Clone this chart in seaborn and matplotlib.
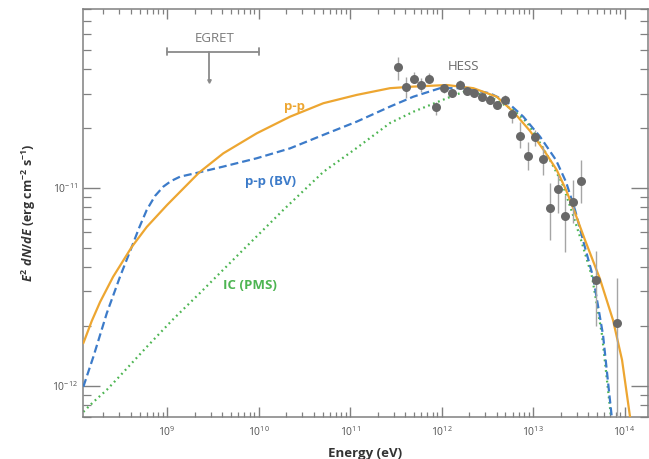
import numpy as np
import pandas as pd
import matplotlib
matplotlib.use("Agg")
import matplotlib.pyplot as plt
import seaborn as sns
from matplotlib.ticker import FixedLocator, LogFormatterMathtext, NullFormatter

# ---------------- data ----------------
# p-p model (solid orange): log10(E/eV), log10(E^2 dN/dE)
pp_logE = [8.085, 8.177, 8.268, 8.410, 8.614, 8.778, 9.000, 9.353, 9.615, 9.980,
           10.344, 10.708, 11.073, 11.437, 11.692, 12.057, 12.348, 12.603, 12.785,
           12.967, 13.131, 13.259, 13.361, 13.459, 13.568, 13.732, 13.874, 13.973,
           14.060, 14.126]
pp_logF = [-11.784, -11.672, -11.576, -11.449, -11.298, -11.197, -11.086, -10.921,
           -10.825, -10.724, -10.640, -10.572, -10.530, -10.496, -10.488, -10.480,
           -10.496, -10.539, -10.615, -10.712, -10.818, -10.909, -11.010, -11.126,
           -11.263, -11.460, -11.667, -11.869, -12.155, -12.348]

# p-p (BV) model (dashed blue)
bv_logE = [8.085, 8.195, 8.341, 8.486, 8.614, 8.694, 8.778, 8.869, 8.960, 9.044,
           9.142, 9.353, 9.615, 9.980, 10.344, 10.708, 11.073, 11.437, 11.692,
           11.984, 12.238, 12.530, 12.713, 12.894, 13.077, 13.251, 13.361, 13.459,
           13.546, 13.656, 13.765, 13.860, 13.885]
bv_logF = [-12.004, -11.852, -11.633, -11.448, -11.298, -11.202, -11.111, -11.040,
           -10.993, -10.965, -10.943, -10.921, -10.892, -10.850, -10.800, -10.732,
           -10.665, -10.589, -10.539, -10.496, -10.496, -10.522, -10.564, -10.640,
           -10.741, -10.859, -10.970, -11.111, -11.263, -11.449, -11.742, -12.155,
           -12.374]

# IC (PMS) model (dotted green)
ic_logE = [8.085, 8.195, 8.341, 8.486, 8.778, 9.069, 9.361, 9.798, 10.271, 10.708,
           11.073, 11.437, 11.692, 12.057, 12.238, 12.494, 12.785, 12.931, 13.044,
           13.197, 13.317, 13.426, 13.525, 13.645, 13.754, 13.852, 13.880]
ic_logF = [-12.131, -12.081, -12.020, -11.949, -11.803, -11.662, -11.530, -11.328,
           -11.111, -10.919, -10.798, -10.672, -10.615, -10.547, -10.515, -10.530,
           -10.606, -10.667, -10.747, -10.869, -10.975, -11.121, -11.263, -11.449,
           -11.742, -12.155, -12.374]

# HESS data points
hess_E = [3.37e11, 4.09e11, 4.97e11, 6.01e11, 7.29e11, 8.77e11, 1.07e12, 1.30e12,
          1.58e12, 1.90e12, 2.28e12, 2.77e12, 3.37e12, 4.07e12, 4.98e12, 5.94e12,
          7.21e12, 8.71e12, 1.06e13, 1.27e13, 1.53e13, 1.86e13, 2.26e13, 2.75e13,
          3.33e13, 4.92e13, 8.34e13]
hess_F = [4.10e-11, 3.23e-11, 3.56e-11, 3.33e-11, 3.56e-11, 2.56e-11, 3.18e-11, 3.02e-11,
          3.33e-11, 3.10e-11, 3.03e-11, 2.89e-11, 2.78e-11, 2.62e-11, 2.79e-11, 2.36e-11,
          1.84e-11, 1.45e-11, 1.81e-11, 1.40e-11, 7.89e-12, 9.85e-12, 7.24e-12, 8.50e-12,
          1.09e-11, 3.42e-12, 2.07e-12]
hess_hi = [4.60e-11, 3.65e-11, 3.87e-11, 3.58e-11, 3.80e-11, 2.73e-11, 3.33e-11, 3.16e-11,
           3.49e-11, 3.25e-11, 3.17e-11, 3.03e-11, 2.92e-11, 2.76e-11, 2.95e-11, 2.48e-11,
           2.16e-11, 1.71e-11, 1.96e-11, 1.62e-11, 1.06e-11, 1.16e-11, 9.22e-12, 1.10e-11,
           1.38e-11, 4.83e-12, 3.51e-12]
hess_lo = [3.51e-11, 2.84e-11, 3.38e-11, 3.06e-11, 3.38e-11, 2.34e-11, 3.03e-11, 2.88e-11,
           3.18e-11, 2.96e-11, 2.89e-11, 2.76e-11, 2.65e-11, 2.50e-11, 2.66e-11, 2.12e-11,
           1.59e-11, 1.23e-11, 1.62e-11, 1.16e-11, 5.46e-12, 7.48e-12, 4.75e-12, 6.66e-12,
           8.40e-12, 2.01e-12, 6.0e-13]

# EGRET upper limit
egret_E_range = [1e9, 1e10]
egret_E_center = 2.9e9
egret_F = 4.88e-11
egret_F_tip = 3.47e-11

# axis ticks
x_major = [1e9, 1e10, 1e11, 1e12, 1e13, 1e14]
y_major = [1e-12, 1e-11]

# ---------------- style ----------------
sns.set_theme(style="white")
plt.rcParams["font.family"] = ["Open Sans", "DejaVu Sans"]
plt.rcParams["mathtext.fontset"] = "custom"
plt.rcParams["mathtext.rm"] = "Open Sans:bold"
plt.rcParams["mathtext.bf"] = "Open Sans:bold"
plt.rcParams["mathtext.it"] = "Open Sans:italic:bold"

c_pp = "#EDA631"
c_bv = "#3C7BC9"
c_ic = "#4DB552"
c_data = "#686868"
c_err = "#A5A5A5"
c_axis = "#808080"

fig = plt.figure(figsize=(6.49, 4.59), dpi=100)
ax = fig.add_axes([0.128, 0.0915, 0.8705, 0.8889])

pp = pd.DataFrame({"E": np.power(10.0, pp_logE), "F": np.power(10.0, pp_logF)})
bv = pd.DataFrame({"E": np.power(10.0, bv_logE), "F": np.power(10.0, bv_logF)})
ic = pd.DataFrame({"E": np.power(10.0, ic_logE), "F": np.power(10.0, ic_logF)})

ax.set_xscale("log")
ax.set_yscale("log")

sns.lineplot(data=ic, x="E", y="F", ax=ax, color=c_ic, lw=1.6, sort=False,
             estimator=None, linestyle=(0, (0.8, 1.6)), zorder=2)
sns.lineplot(data=bv, x="E", y="F", ax=ax, color=c_bv, lw=1.6, sort=False,
             estimator=None, linestyle=(0, (3.6, 1.8)), zorder=3)
sns.lineplot(data=pp, x="E", y="F", ax=ax, color=c_pp, lw=1.6, sort=False,
             estimator=None, zorder=4)

hE = np.array(hess_E)
hF = np.array(hess_F)
yerr = np.vstack([hF - np.array(hess_lo), np.array(hess_hi) - hF])
ax.errorbar(hE, hF, yerr=yerr, fmt="none", ecolor=c_err, elinewidth=1.0, capsize=0, zorder=5)
sns.scatterplot(x=hE, y=hF, ax=ax, color=c_data, s=42, edgecolor=c_data, linewidth=0, zorder=6)

# EGRET bar
egret_col = "#8A8A8A"
ax.plot(egret_E_range, [egret_F, egret_F], color=egret_col, lw=1.3)
for e in egret_E_range:
    ax.plot([e, e], [egret_F / 1.04, egret_F * 1.04], color=egret_col, lw=1.3)
ax.plot([egret_E_center, egret_E_center], [egret_F, egret_F_tip], color=egret_col, lw=1.3)
ax.plot([egret_E_center], [egret_F_tip], marker="v", ms=2.5, color=egret_col)
ax.text(3.35e9, 5.66e-11, "EGRET", color="#7A7A7A", fontsize=9.5, ha="center", va="center")

# labels
ax.text(1.72e12, 4.13e-11, "HESS", color="#6A6A6A", fontsize=9.5, ha="center", va="center")
ax.text(2.5e10, 2.57e-11, "p-p", color=c_pp, fontsize=9.5, fontweight="bold", ha="center", va="center")
ax.text(1.34e10, 1.08e-11, "p-p (BV)", color=c_bv, fontsize=9.5, fontweight="bold", ha="center", va="center")
ax.text(8.1e9, 3.2e-12, "IC (PMS)", color=c_ic, fontsize=9.5, fontweight="bold", ha="center", va="center")

# axes
ax.set_xlim(10 ** 8.082, 10 ** 14.257)
ax.set_ylim(10 ** -12.157, 10 ** -10.096)

x_minor = [m * d for d in [1e8, 1e9, 1e10, 1e11, 1e12, 1e13, 1e14] for m in range(2, 10)]
x_minor = [v for v in x_minor if 10 ** 8.082 < v < 10 ** 14.257]
y_minor = [m * d for d in [1e-13, 1e-12, 1e-11] for m in range(2, 10)]
y_minor = [v for v in y_minor if 10 ** -12.157 < v < 10 ** -10.096]

ax.xaxis.set_major_locator(FixedLocator(x_major))
ax.xaxis.set_minor_locator(FixedLocator(x_minor))
ax.yaxis.set_major_locator(FixedLocator(y_major))
ax.yaxis.set_minor_locator(FixedLocator(y_minor))
ax.xaxis.set_major_formatter(LogFormatterMathtext())
ax.yaxis.set_major_formatter(LogFormatterMathtext())
ax.xaxis.set_minor_formatter(NullFormatter())
ax.yaxis.set_minor_formatter(NullFormatter())

ax.tick_params(axis="x", which="major", direction="in", length=7, width=1.0, color=c_axis,
               top=True, bottom=True, labelsize=7.5, labelcolor="#555555", pad=6)
ax.tick_params(axis="x", which="minor", direction="in", length=3.6, width=0.9, color=c_axis,
               top=True, bottom=True)
ax.tick_params(axis="y", which="major", direction="in", length=12, width=1.0, color=c_axis,
               left=True, right=True, labelsize=7.5, labelcolor="#555555", pad=4)
ax.tick_params(axis="y", which="minor", direction="in", length=6, width=0.9, color=c_axis,
               left=True, right=True)
for s in ax.spines.values():
    s.set_color(c_axis)
    s.set_linewidth(1.1)
ax.grid(False)

ax.set_xlabel("Energy (eV)", fontsize=9.5, fontweight="bold", color="#333333", labelpad=6)
ax.set_ylabel(r"$E^{2}\ dN/dE$ (erg cm$^{-2}$ s$^{-1}$)", fontsize=9, fontweight="bold",
              color="#333333", labelpad=10)

fig.savefig("out.png", dpi=100)
